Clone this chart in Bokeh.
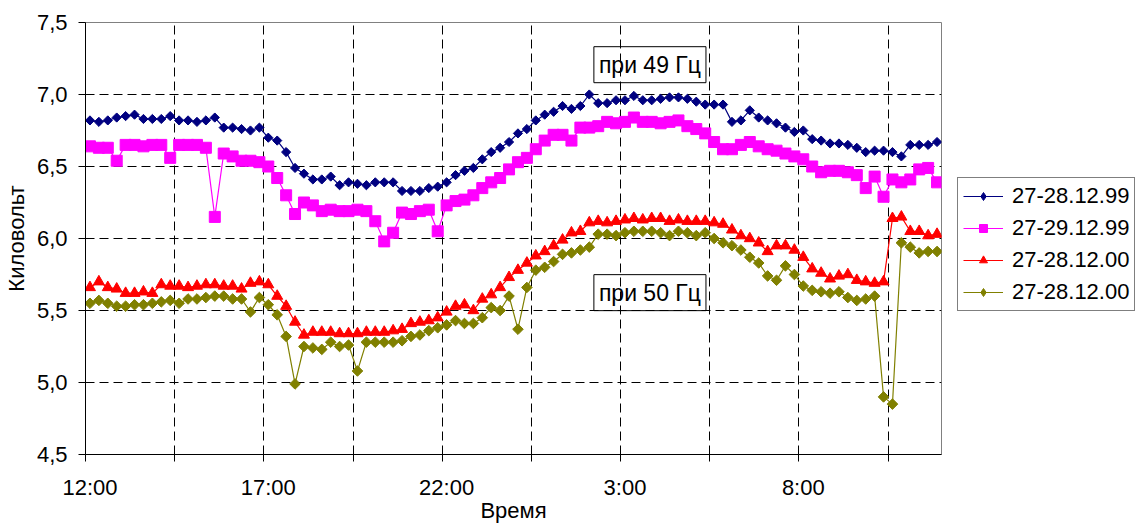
import math
from bokeh.plotting import figure
from bokeh.layouts import row
from bokeh.models import (FixedTicker, CustomJSTickFormatter, Legend, LegendItem,
                          Label, Range1d)
from bokeh.embed import file_html
from bokeh.resources import INLINE

# ---- categories: 15-minute readings from 12:00 to 11:45 next day ----
times = [f"{(12 + q // 4) % 24}:{(q % 4) * 15:02d}" for q in range(96)]
tick_labels = ["12:00", "17:00", "22:00", "3:00", "8:00"]

# ---- series values (kV) ----
s_49_99a = [6.82, 6.81, 6.82, 6.84, 6.85, 6.86, 6.83, 6.83, 6.83, 6.85,
            6.82, 6.82, 6.81, 6.82, 6.84, 6.77, 6.77, 6.76, 6.75, 6.77,
            6.70, 6.68, 6.60, 6.49, 6.45, 6.41, 6.41, 6.43, 6.37, 6.39,
            6.38, 6.37, 6.39, 6.39, 6.39, 6.33, 6.33, 6.33, 6.35, 6.36,
            6.39, 6.44, 6.47, 6.49, 6.55, 6.60, 6.63, 6.67, 6.73, 6.76,
            6.82, 6.86, 6.88, 6.92, 6.90, 6.92, 7.00, 6.94, 6.94, 6.96,
            6.96, 6.99, 6.96, 6.96, 6.97, 6.98, 6.98, 6.97, 6.95, 6.93,
            6.93, 6.93, 6.81, 6.82, 6.89, 6.84, 6.82, 6.80, 6.77, 6.74,
            6.75, 6.69, 6.68, 6.66, 6.66, 6.65, 6.63, 6.60, 6.61, 6.61,
            6.60, 6.57, 6.65, 6.65, 6.65, 6.67]
s_49_99b = [6.64, 6.63, 6.63, 6.54, 6.65, 6.65, 6.64, 6.65, 6.65, 6.56,
            6.65, 6.65, 6.65, 6.63, 6.15, 6.59, 6.57, 6.54, 6.54, 6.53,
            6.50, 6.42, 6.30, 6.17, 6.25, 6.23, 6.19, 6.20, 6.19, 6.19,
            6.20, 6.19, 6.12, 5.98, 6.04, 6.18, 6.17, 6.19, 6.20, 6.05,
            6.23, 6.26, 6.27, 6.30, 6.35, 6.39, 6.42, 6.48, 6.53, 6.56,
            6.62, 6.68, 6.72, 6.72, 6.68, 6.77, 6.77, 6.78, 6.81, 6.80,
            6.81, 6.84, 6.81, 6.81, 6.80, 6.81, 6.82, 6.78, 6.76, 6.73,
            6.67, 6.62, 6.62, 6.65, 6.67, 6.64, 6.62, 6.61, 6.59, 6.57,
            6.55, 6.50, 6.46, 6.47, 6.47, 6.46, 6.44, 6.35, 6.43, 6.29,
            6.41, 6.39, 6.41, 6.48, 6.49, 6.39]
s_50_00a = [5.66, 5.70, 5.66, 5.65, 5.62, 5.62, 5.63, 5.62, 5.68, 5.67,
            5.67, 5.66, 5.67, 5.68, 5.68, 5.67, 5.67, 5.65, 5.69, 5.70,
            5.68, 5.60, 5.53, 5.42, 5.33, 5.35, 5.35, 5.35, 5.34, 5.34,
            5.34, 5.35, 5.35, 5.35, 5.36, 5.37, 5.41, 5.42, 5.43, 5.45,
            5.49, 5.53, 5.54, 5.50, 5.58, 5.61, 5.66, 5.73, 5.78, 5.83,
            5.88, 5.91, 5.95, 5.99, 6.04, 6.05, 6.11, 6.12, 6.11, 6.12,
            6.13, 6.14, 6.13, 6.14, 6.14, 6.12, 6.13, 6.12, 6.12, 6.12,
            6.11, 6.10, 6.06, 6.02, 6.00, 5.97, 5.91, 5.95, 5.95, 5.92,
            5.87, 5.79, 5.76, 5.72, 5.74, 5.75, 5.71, 5.70, 5.69, 5.70,
            6.14, 6.15, 6.05, 6.05, 6.02, 6.03]
s_50_00b = [5.55, 5.57, 5.55, 5.53, 5.53, 5.54, 5.54, 5.55, 5.56, 5.57,
            5.55, 5.58, 5.58, 5.59, 5.60, 5.60, 5.58, 5.58, 5.49, 5.59,
            5.54, 5.47, 5.32, 4.99, 5.25, 5.24, 5.23, 5.28, 5.25, 5.26,
            5.08, 5.28, 5.28, 5.28, 5.28, 5.29, 5.32, 5.33, 5.36, 5.38,
            5.40, 5.43, 5.41, 5.41, 5.45, 5.52, 5.50, 5.60, 5.37, 5.66,
            5.78, 5.80, 5.84, 5.89, 5.90, 5.92, 5.94, 6.03, 6.03, 6.02,
            6.04, 6.05, 6.05, 6.05, 6.04, 6.02, 6.05, 6.04, 6.02, 6.04,
            6.00, 5.97, 5.95, 5.92, 5.87, 5.83, 5.74, 5.71, 5.81, 5.75,
            5.67, 5.64, 5.63, 5.62, 5.63, 5.59, 5.57, 5.58, 5.60, 4.90,
            4.85, 5.97, 5.94, 5.90, 5.91, 5.91]

series_names = ["27-28.12.99", "27-29.12.99", "27-28.12.00", "27-28.12.00"]
series_values = [s_49_99a, s_49_99b, s_50_00a, s_50_00b]
series_colors = ["#000080", "#FF00FF", "#FF0000", "#808000"]
series_markers = ["square", "square", "triangle", "square"]
series_sizes = [6.5, 11, 11, 7.5]
series_angles = [math.pi / 4, 0, 0, math.pi / 4]
legend_markers = ["diamond", "square", "triangle", "diamond"]
legend_sizes = [11, 11, 11, 12]

y_ticks = [4.5, 5.0, 5.5, 6.0, 6.5, 7.0, 7.5]
FONT = "Liberation Sans"
FS = "22px"

xs = list(range(len(times)))

p = figure(width=950, height=525, output_backend="svg", toolbar_location=None,
           x_range=Range1d(-0.5, len(times) - 0.5), y_range=Range1d(4.5, 7.5),
           min_border_left=82, min_border_right=9, min_border_top=22,
           min_border_bottom=66)
p.outline_line_color = "#808080"
p.outline_line_width = 1
p.background_fill_color = "white"
p.border_fill_color = "white"

# x axis
xa = p.xaxis[0]
label_idx = [times.index(t) for t in tick_labels]
bounds = [k - 0.5 for k in range(0, len(times), 10)]
xa.ticker = FixedTicker(ticks=label_idx, minor_ticks=bounds)
xa.major_label_overrides = {i: t for i, t in zip(label_idx, tick_labels)}
xa.major_tick_line_color = None
xa.major_tick_out = 7
xa.major_tick_in = 0
xa.minor_tick_out = 7
xa.minor_tick_in = 0
xa.minor_tick_line_color = "black"
xa.axis_line_color = "black"
xa.major_label_standoff = 13
xa.major_label_text_font = FONT
xa.major_label_text_font_size = FS
xa.major_label_text_color = "black"
xa.axis_label = "Время"
xa.axis_label_text_font = FONT
xa.axis_label_text_font_size = FS
xa.axis_label_text_font_style = "normal"
xa.axis_label_text_color = "black"
xa.axis_label_standoff = -5

# y axis
ya = p.yaxis[0]
ya.ticker = FixedTicker(ticks=y_ticks)
ya.formatter = CustomJSTickFormatter(code="return tick.toFixed(1).replace('.', ',')")
ya.major_tick_out = 7
ya.major_tick_in = 0
ya.minor_tick_line_color = None
ya.major_tick_line_color = "black"
ya.axis_line_color = "black"
ya.major_label_standoff = 11
ya.major_label_text_font = FONT
ya.major_label_text_font_size = FS
ya.major_label_text_color = "black"
ya.axis_label = "Киловольт"
ya.axis_label_text_font = FONT
ya.axis_label_text_font_size = FS
ya.axis_label_text_font_style = "normal"
ya.axis_label_text_color = "black"
ya.axis_label_standoff = 5

# grids
p.xgrid[0].ticker = FixedTicker(ticks=bounds[1:])
p.ygrid[0].ticker = FixedTicker(ticks=y_ticks[1:-1])
for g in (p.xgrid[0], p.ygrid[0]):
    g.grid_line_color = "black"
    g.grid_line_dash = "9 5"
    g.grid_line_width = 1

for vals, col, mk, sz, ang in zip(series_values, series_colors,
                                  series_markers, series_sizes, series_angles):
    p.line(xs, vals, line_color=col, line_width=1.2)
    p.scatter(xs, vals, marker=mk, size=sz, angle=ang,
              fill_color=col, line_color=col)

for txt, yv in [("при 49 Гц", 7.207), ("при 50 Гц", 5.624)]:
    p.add_layout(Label(x=62.8, y=yv, text=txt, text_align="center",
                       text_baseline="middle", text_font=FONT,
                       text_font_size="23px", text_color="black",
                       border_line_color="black", border_line_width=1,
                       background_fill_color=None, padding=5))

# ---- legend panel to the right of the plot area ----
pl = figure(width=189, height=525, output_backend="svg", toolbar_location=None,
            x_axis_location=None, y_axis_location=None, min_border=0,
            x_range=Range1d(0, 1), y_range=Range1d(0, 1))
pl.outline_line_color = None
pl.grid.visible = False
pl.background_fill_color = "white"
pl.border_fill_color = "white"

nan = float("nan")
items = []
for name, col, mk, sz in zip(series_names, series_colors, legend_markers, legend_sizes):
    rl = pl.line([nan], [nan], line_color=col, line_width=1.2)
    rm = pl.scatter([nan], [nan], marker=mk, size=sz, fill_color=col, line_color=col)
    items.append(LegendItem(label=name, renderers=[rl, rm]))

legend = Legend(items=items, location=(7, 143))
legend.border_line_color = "black"
legend.border_line_width = 1
legend.background_fill_color = "white"
legend.background_fill_alpha = 1
legend.label_text_font = FONT
legend.label_text_font_size = FS
legend.label_text_color = "black"
legend.glyph_width = 40
legend.glyph_height = 20
legend.label_height = 20
legend.spacing = 6
legend.padding = 5
legend.margin = 0
legend.label_standoff = 9
pl.add_layout(legend)

layout = row(p, pl, spacing=0)
open("out.html", "w").write(file_html(layout, INLINE))
